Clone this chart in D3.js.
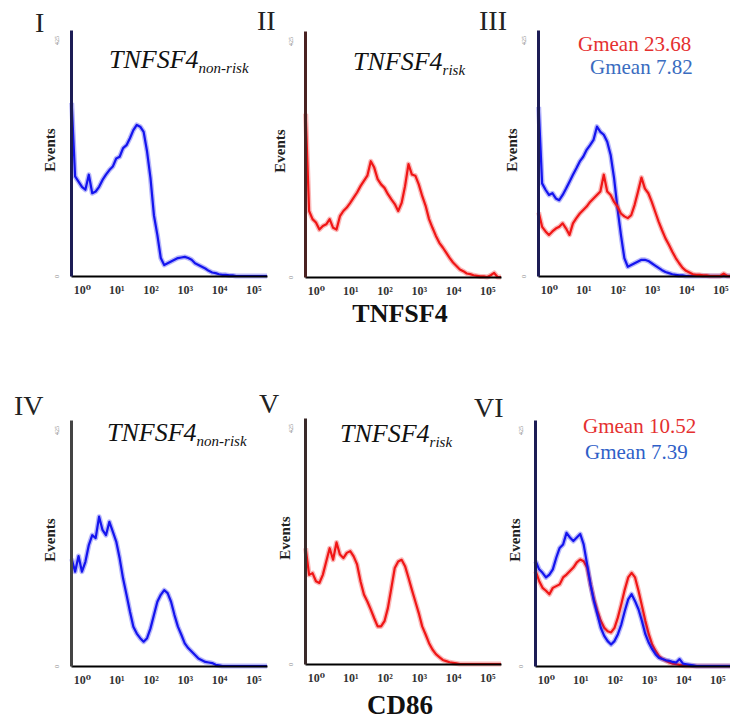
<!DOCTYPE html>
<html>
<head>
<meta charset="utf-8">
<script src="https://cdn.jsdelivr.net/npm/d3@7"></script>
<style>
  body { margin: 0; background: #fff; }
  svg { display: block; }
  svg text { font-family: "Liberation Serif", "DejaVu Serif", serif; }
</style>
</head>
<body>
<svg id="chart" width="730" height="725"></svg>
<script>
// channel of each histogram bin, in log10 units
const decades = [-0.3, -0.2, -0.1, 0, 0.1, 0.2, 0.3, 0.4, 0.5, 0.6, 0.7, 0.8, 0.9,
  1.0, 1.1, 1.2, 1.3, 1.4, 1.5, 1.6, 1.7, 1.8, 1.9, 2.0, 2.1, 2.2, 2.3, 2.4, 2.5, 2.6,
  2.7, 2.8, 2.9, 3.0, 3.1, 3.2, 3.3, 3.4, 3.5, 3.6, 3.7, 3.8, 3.9, 4.0, 4.1, 4.2, 4.3,
  4.4, 4.5, 4.6, 4.7, 4.8, 4.9, 5.0, 5.1, 5.2, 5.3, 5.4];
const tickDecades = [0, 1, 2, 3, 4, 5];
const tickSup = ["\u2070", "\u00b9", "\u00b2", "\u00b3", "\u2074", "\u2075"];
const maxEvents = 425;

// event counts (0-425) per bin
const tnfNonRisk = [299, 172, 163, 154, 149, 175, 143, 146, 154, 166, 175, 183, 189,
  203, 206, 221, 226, 238, 252, 261, 258, 249, 215, 169, 105, 71, 31, 19, 22, 25,
  28, 31, 32, 33, 31, 28, 22, 19, 16, 13, 9, 6, 5, 3, 2, 2, 1,
  1, 0, 0, 0, 0, 0, 0, 0, 0, 0, 0];
const tnfRisk = [282, 114, 100, 94, 82, 88, 91, 100, 85, 82, 105, 114, 120,
  128, 137, 146, 157, 166, 175, 200, 189, 169, 160, 154, 143, 134, 126, 114, 128, 157,
  195, 177, 175, 160, 140, 123, 100, 85, 71, 59, 51, 42, 33, 25, 19, 13, 10,
  6, 5, 3, 2, 1, 1, 0, 3, 7, 0, 0];
const tnfOverlayBlue = [292, 160, 149, 140, 143, 134, 131, 140, 151, 163, 175, 186, 198,
  206, 218, 226, 235, 258, 249, 244, 232, 209, 169, 117, 71, 31, 16, 19, 22, 25,
  28, 28, 26, 22, 18, 14, 10, 7, 5, 3, 2, 1, 1, 0, 0, 0, 0,
  0, 0, 0, 0, 0, 0, 0, 0, 0, 0, 0];
const tnfOverlayRed = [110, 85, 77, 71, 77, 82, 85, 91, 82, 71, 91, 100, 108,
  114, 120, 128, 134, 140, 146, 175, 146, 140, 128, 120, 108, 103, 100, 105, 123, 146,
  170, 151, 143, 128, 111, 94, 79, 65, 54, 42, 31, 22, 14, 9, 6, 3, 2,
  2, 1, 1, 0, 0, 0, 0, 4, 0, 0, 0];
const cd86NonRisk = [185, 163, 190, 163, 180, 209, 226, 221, 258, 235, 226, 249, 232,
  215, 186, 151, 123, 94, 68, 56, 48, 42, 48, 65, 88, 111, 123, 131, 126, 111,
  88, 68, 54, 39, 31, 25, 19, 13, 10, 7, 6, 5, 2, 1, 0, 0, 0,
  0, 0, 0, 0, 0, 0, 0, 0, 0, 0, 0];
const cd86Risk = [200, 154, 157, 143, 140, 154, 177, 200, 180, 210, 189, 183, 192,
  195, 186, 172, 143, 120, 108, 94, 79, 65, 65, 74, 97, 131, 166, 177, 180, 169,
  149, 128, 108, 88, 65, 51, 36, 25, 17, 12, 7, 5, 3, 2, 1, 0, 0,
  0, 0, 0, 0, 0, 0, 0, 0, 0, 0, 0];
const cd86OverlayBlue = [181, 167, 161, 153, 158, 167, 187, 204, 210, 230, 222, 216, 222,
  228, 210, 176, 141, 112, 89, 66, 52, 43, 37, 43, 55, 72, 95, 115, 124, 112,
  98, 78, 55, 40, 29, 20, 14, 12, 10, 9, 7, 6, 12, 4, 3, 2, 1,
  0, 0, 0, 0, 0, 0, 0, 0, 0, 0, 0];
const cd86OverlayRed = [164, 147, 135, 130, 124, 135, 138, 141, 153, 158, 164, 170, 179,
  184, 181, 170, 141, 115, 95, 78, 66, 60, 58, 66, 84, 107, 132, 153, 161, 153,
  130, 104, 78, 55, 37, 26, 17, 12, 9, 6, 4, 3, 2, 1, 0, 0, 0,
  0, 0, 0, 0, 0, 0, 0, 0, 0, 0, 0];

const gmeanTnf = ["Gmean 23.68", "Gmean 7.82"];
const gmeanCd86 = ["Gmean 10.52", "Gmean 7.39"];

const blue = "#1414ee", red = "#f01616";
const serif = "'Liberation Serif', 'DejaVu Serif', serif";
const plotW = 196, plotH = 246;

const svg = d3.select("#chart");

const x = d3.scaleLog().domain([Math.pow(10, -0.32), Math.pow(10, 5.4)]).range([0, plotW]);
const y = d3.scaleLinear().domain([0, maxEvents]).range([plotH, 0]);

const line = d3.line()
  .x((d, i) => x(Math.pow(10, decades[i])))
  .y(d => y(d));

const panels = [
  { num: "I", numX: 35, numY: 32, x0: 71, bottom: 276, axisColor: "#1c1c55", evGap: 16,
    title: { x: 109, y: 68, sub: "non-risk" }, series: [[tnfNonRisk, blue]] },
  { num: "II", numX: 257, numY: 30, x0: 305, bottom: 277, axisColor: "#4a2222", evGap: 20,
    title: { x: 353, y: 70, sub: "risk" }, series: [[tnfRisk, red]] },
  { num: "III", numX: 479, numY: 30, x0: 538, bottom: 276, axisColor: "#1c1c55", evGap: 21,
    gmean: { texts: gmeanTnf, x: [578, 590], y: [51, 74], colors: ["#e53030", "#3a6cc0"] },
    series: [[tnfOverlayBlue, blue], [tnfOverlayRed, red]] },
  { num: "IV", numX: 14, numY: 415, x0: 71, bottom: 666, axisColor: "#444", evGap: 16,
    title: { x: 107, y: 441, sub: "non-risk" }, series: [[cd86NonRisk, blue]] },
  { num: "V", numX: 259, numY: 413, x0: 305, bottom: 664, axisColor: "#3a2a2a", evGap: 15,
    title: { x: 340, y: 442, sub: "risk" }, series: [[cd86Risk, red]] },
  { num: "VI", numX: 474, numY: 417, x0: 535, bottom: 666, axisColor: "#1c1c55", evGap: 15,
    gmean: { texts: gmeanCd86, x: [583, 585], y: [433, 459], colors: ["#e53030", "#2f5fc8"] },
    series: [[cd86OverlayRed, red], [cd86OverlayBlue, blue]] }
];

panels.forEach(p => {
  // roman numeral
  svg.append("text")
    .attr("x", p.numX).attr("y", p.numY)
    .attr("font-family", serif)
    .attr("font-size", 28).attr("fill", "#222")
    .text(p.num);

  const g = svg.append("g").attr("transform", `translate(${p.x0},${p.bottom - plotH})`);

  // histogram lines, a soft wide stroke under a thinner one
  p.series.forEach(([vals, color]) => {
    g.append("path").datum(vals)
      .attr("d", line).attr("fill", "none")
      .attr("stroke", color).attr("stroke-width", 5).attr("stroke-opacity", 0.3)
      .attr("stroke-linejoin", "round");
    g.append("path").datum(vals)
      .attr("d", line).attr("fill", "none")
      .attr("stroke", color).attr("stroke-width", 2.2)
      .attr("stroke-linejoin", "round");
  });

  // x axis
  const gx = g.append("g")
    .attr("transform", `translate(0,${plotH})`)
    .call(d3.axisBottom(x)
      .tickValues(tickDecades.map(d => Math.pow(10, d)))
      .tickSize(0).tickPadding(9)
      .tickFormat((v, i) => "10" + tickSup[i]));
  gx.attr("font-family", serif);
  gx.select(".domain").attr("stroke", "#000").attr("stroke-width", 2.2);
  gx.selectAll(".tick text")
    .attr("font-size", 12).attr("font-weight", "bold").attr("fill", "#333");

  // y axis
  const gy = g.append("g")
    .call(d3.axisLeft(y).tickValues([0, maxEvents]).tickSize(0));
  gy.attr("font-family", serif);
  gy.select(".domain").attr("stroke", p.axisColor).attr("stroke-width", 3);
  gy.selectAll(".tick text")
    .attr("font-size", 6).attr("fill", "#888")
    .attr("text-anchor", "middle")
    .attr("transform", "rotate(-90)")
    .attr("x", d => d === maxEvents ? -10 : 0)
    .attr("y", -12).attr("dy", 0);

  // Events label
  svg.append("text")
    .attr("transform", `translate(${p.x0 - p.evGap},${p.bottom - 126}) rotate(-90)`)
    .attr("text-anchor", "middle")
    .attr("font-family", serif)
    .attr("font-size", 15).attr("font-weight", "bold").attr("fill", "#222")
    .text("Events");

  if (p.title) {
    const t = svg.append("text")
      .attr("x", p.title.x).attr("y", p.title.y)
      .attr("font-family", serif)
      .attr("font-style", "italic").attr("fill", "#111");
    t.append("tspan").attr("font-size", 26).text("TNFSF4");
    t.append("tspan").attr("font-size", 15).attr("dy", 5).text(p.title.sub);
  }

  if (p.gmean) {
    p.gmean.texts.forEach((s, i) => {
      svg.append("text")
        .attr("x", p.gmean.x[i]).attr("y", p.gmean.y[i])
        .attr("font-family", serif)
        .attr("font-size", 21).attr("fill", p.gmean.colors[i])
        .text(s);
    });
  }
});

// shared x axis titles
svg.append("text")
  .attr("x", 400).attr("y", 322).attr("text-anchor", "middle")
  .attr("font-family", serif)
  .attr("font-size", 26).attr("font-weight", "bold").attr("fill", "#111")
  .text("TNFSF4");
svg.append("text")
  .attr("x", 400).attr("y", 714).attr("text-anchor", "middle")
  .attr("font-family", serif)
  .attr("font-size", 27).attr("font-weight", "bold").attr("fill", "#111")
  .text("CD86");
</script>
</body>
</html>
